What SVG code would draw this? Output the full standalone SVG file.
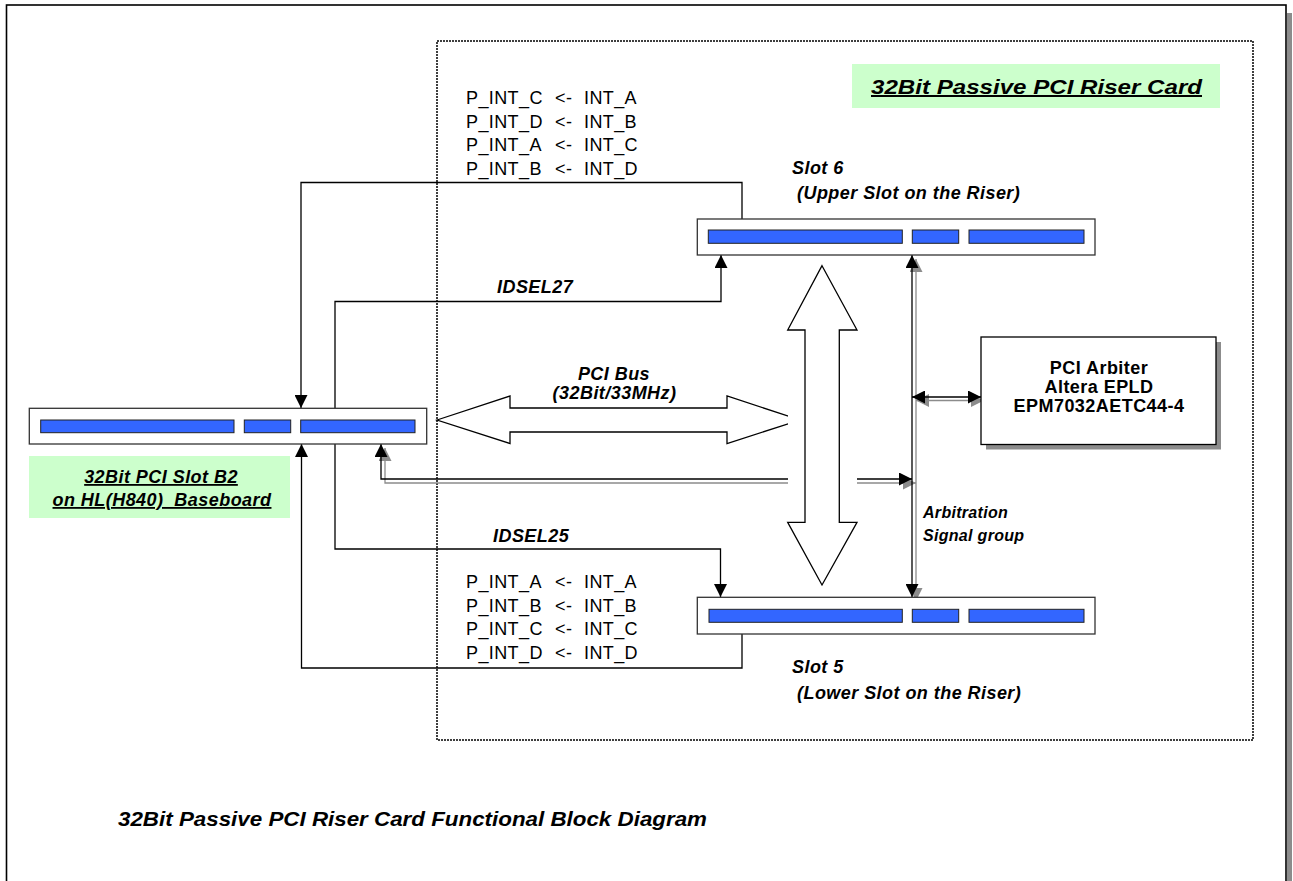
<svg xmlns="http://www.w3.org/2000/svg" width="1293" height="881" viewBox="0 0 1293 881">
<style>
.t{font-family:"Liberation Sans",Arial,sans-serif;font-size:18px;fill:#000;letter-spacing:0.4px}
.b{font-family:"Liberation Sans",Arial,sans-serif;font-size:18px;font-weight:bold;font-style:italic;fill:#000;letter-spacing:0.45px}
.ab{font-family:"Liberation Sans",Arial,sans-serif;font-size:18px;font-weight:bold;fill:#000;letter-spacing:0.45px}
.u{text-decoration:underline}
.ln{fill:none;stroke:#000;stroke-width:1.3}
.sh{fill:none;stroke:#8c8c8c;stroke-width:1.3}
.slot{fill:#fff;stroke:#333;stroke-width:1.3}
.bar{fill:#3366FF;stroke:#222;stroke-width:1}
.green{fill:#CCFFCC}
</style>
<defs>
<marker id="ah" markerUnits="userSpaceOnUse" markerWidth="13" markerHeight="13" viewBox="0 0 13 13" refX="13" refY="6.5" orient="auto-start-reverse"><path d="M0,0 L13,6.5 L0,13 z" fill="#000"/></marker>
<marker id="ahg" markerUnits="userSpaceOnUse" markerWidth="13" markerHeight="13" viewBox="0 0 13 13" refX="13" refY="6.5" orient="auto-start-reverse"><path d="M0,0 L13,6.5 L0,13 z" fill="#8c8c8c"/></marker>
</defs>
<rect x="0" y="0" width="1293" height="881" fill="#fff"/>
<rect x="1287" y="13" width="5" height="880" fill="#8c8c8c"/>
<rect x="6.5" y="5" width="1279.5" height="890" fill="none" stroke="#000" stroke-width="1.6"/>
<g id="riser-card">
<rect x="437" y="41" width="816" height="699" fill="none" stroke="#000" stroke-width="1.5" stroke-dasharray="2 1"/>
<rect class="green" x="852" y="64" width="368" height="44"/>
<text class="b u" x="871" y="94" style="font-size:20px;letter-spacing:0" textLength="331" lengthAdjust="spacingAndGlyphs">32Bit Passive PCI Riser Card</text>
</g>
<g id="baseboard-label">
<rect class="green" x="29" y="456" width="261" height="62"/>
<text class="b u" x="161" y="483" text-anchor="middle">32Bit PCI Slot B2</text>
<text class="b u" x="162" y="506" text-anchor="middle" xml:space="preserve">on HL(H840)  Baseboard</text>
</g>
<g id="connectors">
<polyline class="ln" points="742,219 742,182.5 301,182.5 301,408" marker-end="url(#ah)"/>
<polyline class="ln" points="742,634 742,668 301.5,668 301.5,444" marker-end="url(#ah)"/>
<polyline class="ln" points="335,420 335,301.5 721,301.5 721,255" marker-end="url(#ah)"/>
<polyline class="ln" points="335,430 335,549 720.5,549 720.5,597" marker-end="url(#ah)"/>
<polyline class="sh" points="916,483 385,483 385,448" marker-start="url(#ahg)" marker-end="url(#ahg)"/>
<polyline class="ln" points="912,479 381,479 381,444" marker-start="url(#ah)" marker-end="url(#ah)"/>
<line class="sh" x1="916" y1="259" x2="916" y2="601" marker-start="url(#ahg)" marker-end="url(#ahg)"/>
<line class="ln" x1="912" y1="255" x2="912" y2="597" marker-start="url(#ah)" marker-end="url(#ah)"/>
<line class="sh" x1="916" y1="400.5" x2="984" y2="400.5" marker-start="url(#ahg)" marker-end="url(#ahg)"/>
<line class="ln" x1="912" y1="397" x2="981" y2="397" marker-start="url(#ah)" marker-end="url(#ah)"/>
</g>
<g id="pci-bus">
<polygon points="437,420 510,396 510,408 727,408 727,396 800,420 727,443.5 727,432 510,432 510,443.5" fill="#fff" stroke="#000" stroke-width="1.3"/>
<rect x="788" y="390" width="69" height="100" fill="#fff"/>
<polygon points="822,265.7 857,330 839.3,330 839.3,522.3 857,522.3 822,585 787.7,522.3 805,522.3 805,330 787.7,330" fill="#fff" stroke="#000" stroke-width="1.3"/>
<text class="b" x="614" y="380" text-anchor="middle">PCI Bus</text>
<text class="b" x="614.5" y="399" text-anchor="middle">(32Bit/33MHz)</text>
</g>
<g id="slot-b2">
<rect class="slot" x="29.3" y="408.3" width="397.4" height="35.7"/>
<rect class="bar" x="40.7" y="420" width="193.3" height="12.7"/>
<rect class="bar" x="244.3" y="420" width="46.4" height="12.7"/>
<rect class="bar" x="300.7" y="420" width="114.3" height="12.7"/>
</g>
<g id="slot-6">
<rect class="slot" x="697.3" y="219" width="397.7" height="36"/>
<rect class="bar" x="708.3" y="230" width="194" height="13.3"/>
<rect class="bar" x="912.3" y="230" width="46.4" height="13.3"/>
<rect class="bar" x="969" y="230" width="115" height="13.3"/>
<text class="b" x="792" y="174">Slot 6</text>
<text class="b" x="797" y="199">(Upper Slot on the Riser)</text>
</g>
<g id="slot-5">
<rect class="slot" x="697.3" y="597.3" width="397.7" height="36.7"/>
<rect class="bar" x="709" y="609.3" width="193.3" height="13"/>
<rect class="bar" x="912.3" y="609.3" width="46.4" height="13"/>
<rect class="bar" x="969" y="609.3" width="115" height="13"/>
<text class="b" x="792" y="673">Slot 5</text>
<text class="b" x="797" y="699">(Lower Slot on the Riser)</text>
</g>
<g id="arbiter">
<rect x="986" y="342" width="235" height="107.5" fill="#8c8c8c"/>
<rect x="981" y="337" width="235" height="107.5" fill="#fff" stroke="#000" stroke-width="1.3"/>
<text class="ab" x="1099" y="374" text-anchor="middle">PCI Arbiter</text>
<text class="ab" x="1099" y="393" text-anchor="middle">Altera EPLD</text>
<text class="ab" x="1099" y="412" text-anchor="middle">EPM7032AETC44-4</text>
</g>
<g id="labels">
<text class="t" y="104"><tspan x="466">P_INT_C</tspan><tspan x="555">&lt;-</tspan><tspan x="584">INT_A</tspan></text>
<text class="t" y="127.5"><tspan x="466">P_INT_D</tspan><tspan x="555">&lt;-</tspan><tspan x="584">INT_B</tspan></text>
<text class="t" y="151"><tspan x="466">P_INT_A</tspan><tspan x="555">&lt;-</tspan><tspan x="584">INT_C</tspan></text>
<text class="t" y="174.5"><tspan x="466">P_INT_B</tspan><tspan x="555">&lt;-</tspan><tspan x="584">INT_D</tspan></text>
<text class="t" y="588"><tspan x="466">P_INT_A</tspan><tspan x="555">&lt;-</tspan><tspan x="584">INT_A</tspan></text>
<text class="t" y="611.5"><tspan x="466">P_INT_B</tspan><tspan x="555">&lt;-</tspan><tspan x="584">INT_B</tspan></text>
<text class="t" y="635"><tspan x="466">P_INT_C</tspan><tspan x="555">&lt;-</tspan><tspan x="584">INT_C</tspan></text>
<text class="t" y="658.5"><tspan x="466">P_INT_D</tspan><tspan x="555">&lt;-</tspan><tspan x="584">INT_D</tspan></text>
<text class="b" x="497" y="293">IDSEL27</text>
<text class="b" x="493" y="542">IDSEL25</text>
<text class="b" x="923" y="518" style="font-size:16px;letter-spacing:0.3px">Arbitration</text>
<text class="b" x="923" y="541" style="font-size:16px;letter-spacing:0.3px">Signal group</text>
<text class="b" x="118" y="826" style="font-size:20px;letter-spacing:0" textLength="589" lengthAdjust="spacingAndGlyphs">32Bit Passive PCI Riser Card Functional Block Diagram</text>
</g>
</svg>
